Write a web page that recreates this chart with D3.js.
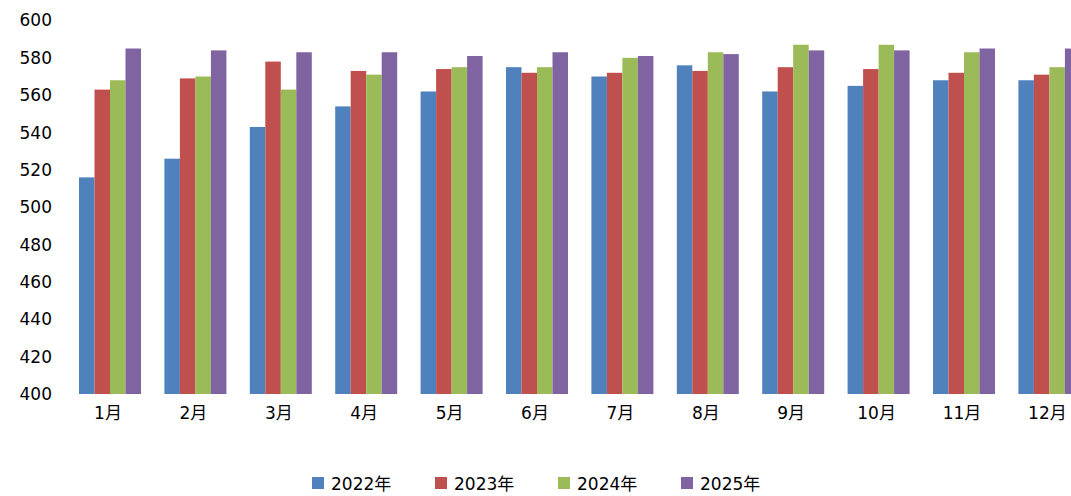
<!DOCTYPE html>
<html>
<head>
<meta charset="utf-8">
<script src="https://cdn.jsdelivr.net/npm/d3@7/dist/d3.min.js"></script>
<style>
  html, body { margin: 0; padding: 0; background: #fff; }
  svg { display: block; }
  text { font-family: "DejaVu Sans", "Noto Sans CJK SC", sans-serif; fill: #000; }
</style>
</head>
<body>
<svg id="chart" width="1071" height="496"></svg>
<script>
// Monthly values by year
const months = ["1月", "2月", "3月", "4月", "5月", "6月", "7月", "8月", "9月", "10月", "11月", "12月"];
const years = ["2022年", "2023年", "2024年", "2025年"];
const values2022 = [516, 526, 543, 554, 562, 575, 570, 576, 562, 565, 568, 568];
const values2023 = [563, 569, 578, 573, 574, 572, 572, 573, 575, 574, 572, 571];
const values2024 = [568, 570, 563, 571, 575, 575, 580, 583, 587, 587, 583, 575];
const values2025 = [585, 584, 583, 583, 581, 583, 581, 582, 584, 584, 585, 585];
const yTicks = [400, 420, 440, 460, 480, 500, 520, 540, 560, 580, 600];
const colors = ["#4F81BD", "#C0504D", "#9BBB59", "#8064A2"];

const seriesValues = [values2022, values2023, values2024, values2025];
const rows = months.map((m, i) => ({
  month: m,
  vals: years.map((y, k) => ({ year: y, value: seriesValues[k][i], color: colors[k] }))
}));

const svg = d3.select("#chart");

const x = d3.scaleBand().domain(months).range([67.3, 1092.1])
  .paddingInner(0.274).paddingOuter(0.137);
const xs = d3.scaleBand().domain(years).range([0, x.bandwidth()]).padding(0);
const y = d3.scaleLinear().domain([400, 600]).range([394, 20.5]);

// Bars
const groups = svg.append("g").selectAll("g").data(rows).join("g")
  .attr("transform", d => `translate(${x(d.month)},0)`);
groups.selectAll("rect").data(d => d.vals).join("rect")
  .attr("x", d => xs(d.year))
  .attr("y", d => y(d.value))
  .attr("width", xs.bandwidth())
  .attr("height", d => y(400) - y(d.value))
  .attr("fill", d => d.color);

// Y axis labels (no axis line)
const yAxis = svg.append("g").attr("transform", "translate(52,0)")
  .call(d3.axisLeft(y).tickValues(yTicks).tickSize(0).tickPadding(0));
yAxis.select(".domain").remove();
yAxis.selectAll("text").style("font-size", "17px")
  .style("font-family", "'DejaVu Sans', sans-serif").attr("fill", "#000");

// X axis labels
const xAxis = svg.append("g").attr("transform", "translate(-2,394)")
  .call(d3.axisBottom(x).tickSize(0).tickPadding(13));
xAxis.select(".domain").remove();
xAxis.selectAll("text").style("font-size", "17px")
  .style("font-family", "'DejaVu Sans', 'Noto Sans CJK SC', sans-serif").attr("fill", "#000");

// Legend
const legend = svg.append("g").attr("transform", "translate(312,477)");
const item = legend.selectAll("g").data(years).join("g")
  .attr("transform", (d, i) => `translate(${i * 123},0)`);
item.append("rect").attr("width", 12).attr("height", 12)
  .attr("fill", (d, i) => colors[i]);
item.append("text").attr("x", 19).attr("y", 12.5)
  .style("font-size", "17px").text(d => d);
</script>
</body>
</html>
